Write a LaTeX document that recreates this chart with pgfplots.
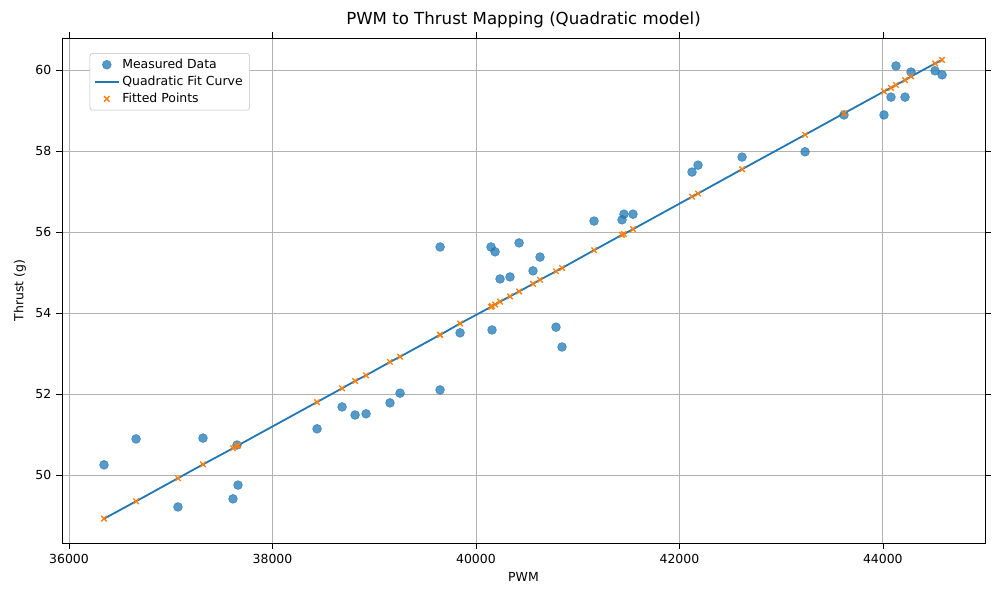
\documentclass[border=0pt]{standalone}
\usepackage{pgfplots}
\pgfplotsset{compat=1.18}
\usepackage{pgfplotstable}
\usepackage{fontspec}
\setmainfont{DejaVu Sans}
\definecolor{c0}{HTML}{1F77B4}
\definecolor{c1}{HTML}{FF7F0E}
\pgfplotstableread{
x meas fit
36344 50.25 48.92
36659 50.89 49.35
37071 49.21 49.92
37317 50.91 50.26
37612 49.41 50.66
37651 50.74 50.72
37661 49.75 50.73
38438 51.14 51.80
38684 51.68 52.14
38812 51.48 52.32
38920 51.51 52.46
39155 51.78 52.79
39254 52.02 52.92
39647 52.10 53.46
39648 55.63 53.46
39844 53.51 53.74
40148 55.63 54.15
40158 53.58 54.17
40188 55.51 54.21
40237 54.84 54.28
40335 54.89 54.41
40424 55.73 54.53
40561 55.04 54.72
40630 55.38 54.82
40787 53.65 55.03
40846 53.16 55.11
41161 56.27 55.55
41436 56.30 55.93
41455 56.44 55.95
41544 56.44 56.07
42124 57.48 56.87
42183 57.65 56.95
42616 57.85 57.55
43235 57.98 58.40
43618 58.89 58.93
44011 58.89 59.47
44080 59.33 59.56
44129 60.10 59.63
44218 59.33 59.75
44277 59.95 59.84
44513 59.98 60.16
44582 59.88 60.25
}\data
\begin{document}
\begin{tikzpicture}
\path (-0.62in,-0.57in) rectangle (9.38in,5.43in);
\begin{axis}[
  scale only axis, width=9.23in, height=5.05in,
  xmin=35931, xmax=45004, ymin=48.32, ymax=60.79,
  xtick={36000,38000,...,44000}, ytick={50,52,...,60},
  scaled x ticks=false,
  /pgf/number format/.cd, use comma=false, 1000 sep={}, assume math mode=true,
  /pgfplots/.cd,
  grid=major, grid style={color=gray!60, line width=0.6pt},
  tick align=outside, tick style={black},
  tick label style={font=\small},
  title={PWM to Thrust Mapping (Quadratic model)},
  title style={font=\large, yshift=-2pt},
  xlabel={PWM}, ylabel={Thrust (g)},
  label style={font=\small},
  legend pos=north west,
  legend style={font=\small, draw=gray!50, rounded corners=2pt, cells={anchor=west}},
  legend cell align=left,
]
\addplot[only marks, mark=*, mark size=3.2pt, color=c0, fill opacity=0.75, draw opacity=0.75] table[x=x,y=meas]{\data};
\addlegendentry{Measured Data}
\addplot[c0, line width=1.3pt] table[x=x,y=fit]{\data};
\addlegendentry{Quadratic Fit Curve}
\addplot[only marks, mark=x, mark size=2.8pt, color=c1, line width=1pt] table[x=x,y=fit]{\data};
\addlegendentry{Fitted Points}
\end{axis}
\end{tikzpicture}
\end{document}
